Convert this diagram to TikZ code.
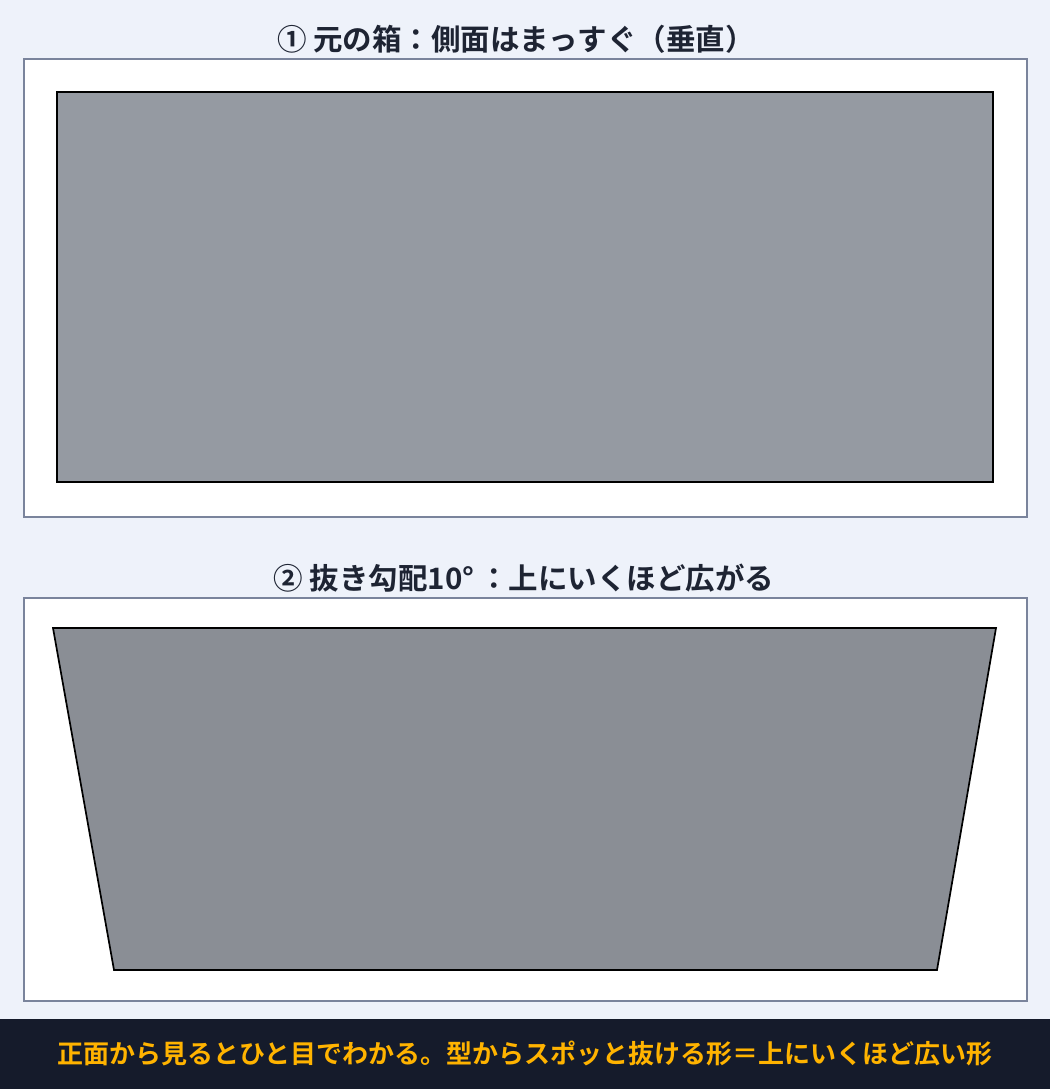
\documentclass[tikz,border=0pt]{standalone}
\usepackage{fontspec}
\setmainfont{Noto Sans CJK JP Bold}
\usepackage{tikz}
\definecolor{bgcol}{HTML}{EEF2FA}
\definecolor{framecol}{HTML}{7A849C}
\definecolor{boxcol}{HTML}{959AA2}
\definecolor{draftcol}{HTML}{8A8E95}
\definecolor{titlecol}{HTML}{1E2433}
\definecolor{bandcol}{HTML}{151B2B}
\definecolor{notecol}{HTML}{FFB300}
\begin{document}
\begin{tikzpicture}[x=1pt,y=1pt,
panel/.style={draw=framecol,line width=2pt,fill=white},
body/.style={draw=black,line width=1.7pt,line join=miter},
heading/.style={text=titlecol,font=\fontsize{29.5}{34}\selectfont,inner sep=0pt}]
\fill[bgcol](0,0) rectangle (1050,1089);
% upper panel
\node[heading] (title1) at (516,1050){① 元の箱：側面はまっすぐ（垂直）};
\draw[panel](24,1030) rectangle (1027,572);
\draw[body,fill=boxcol](57,997) rectangle (993,607);
% lower panel
\node[heading] (title2) at (524,511){② 抜き勾配10°\,：上にいくほど広がる};
\draw[panel](24,491) rectangle (1027,88);
\draw[body,fill=draftcol](53,461)--(996,461)--(937,119)--(114,119)--cycle;
% note band
\fill[bandcol](0,0) rectangle (1050,70);
\node[text=notecol,font=\fontsize{26}{30}\selectfont,inner sep=0pt] (note) at (525,35)
  {正面から見るとひと目でわかる。型からスポッと抜ける形＝上にいくほど広い形};
\end{tikzpicture}
\end{document}
